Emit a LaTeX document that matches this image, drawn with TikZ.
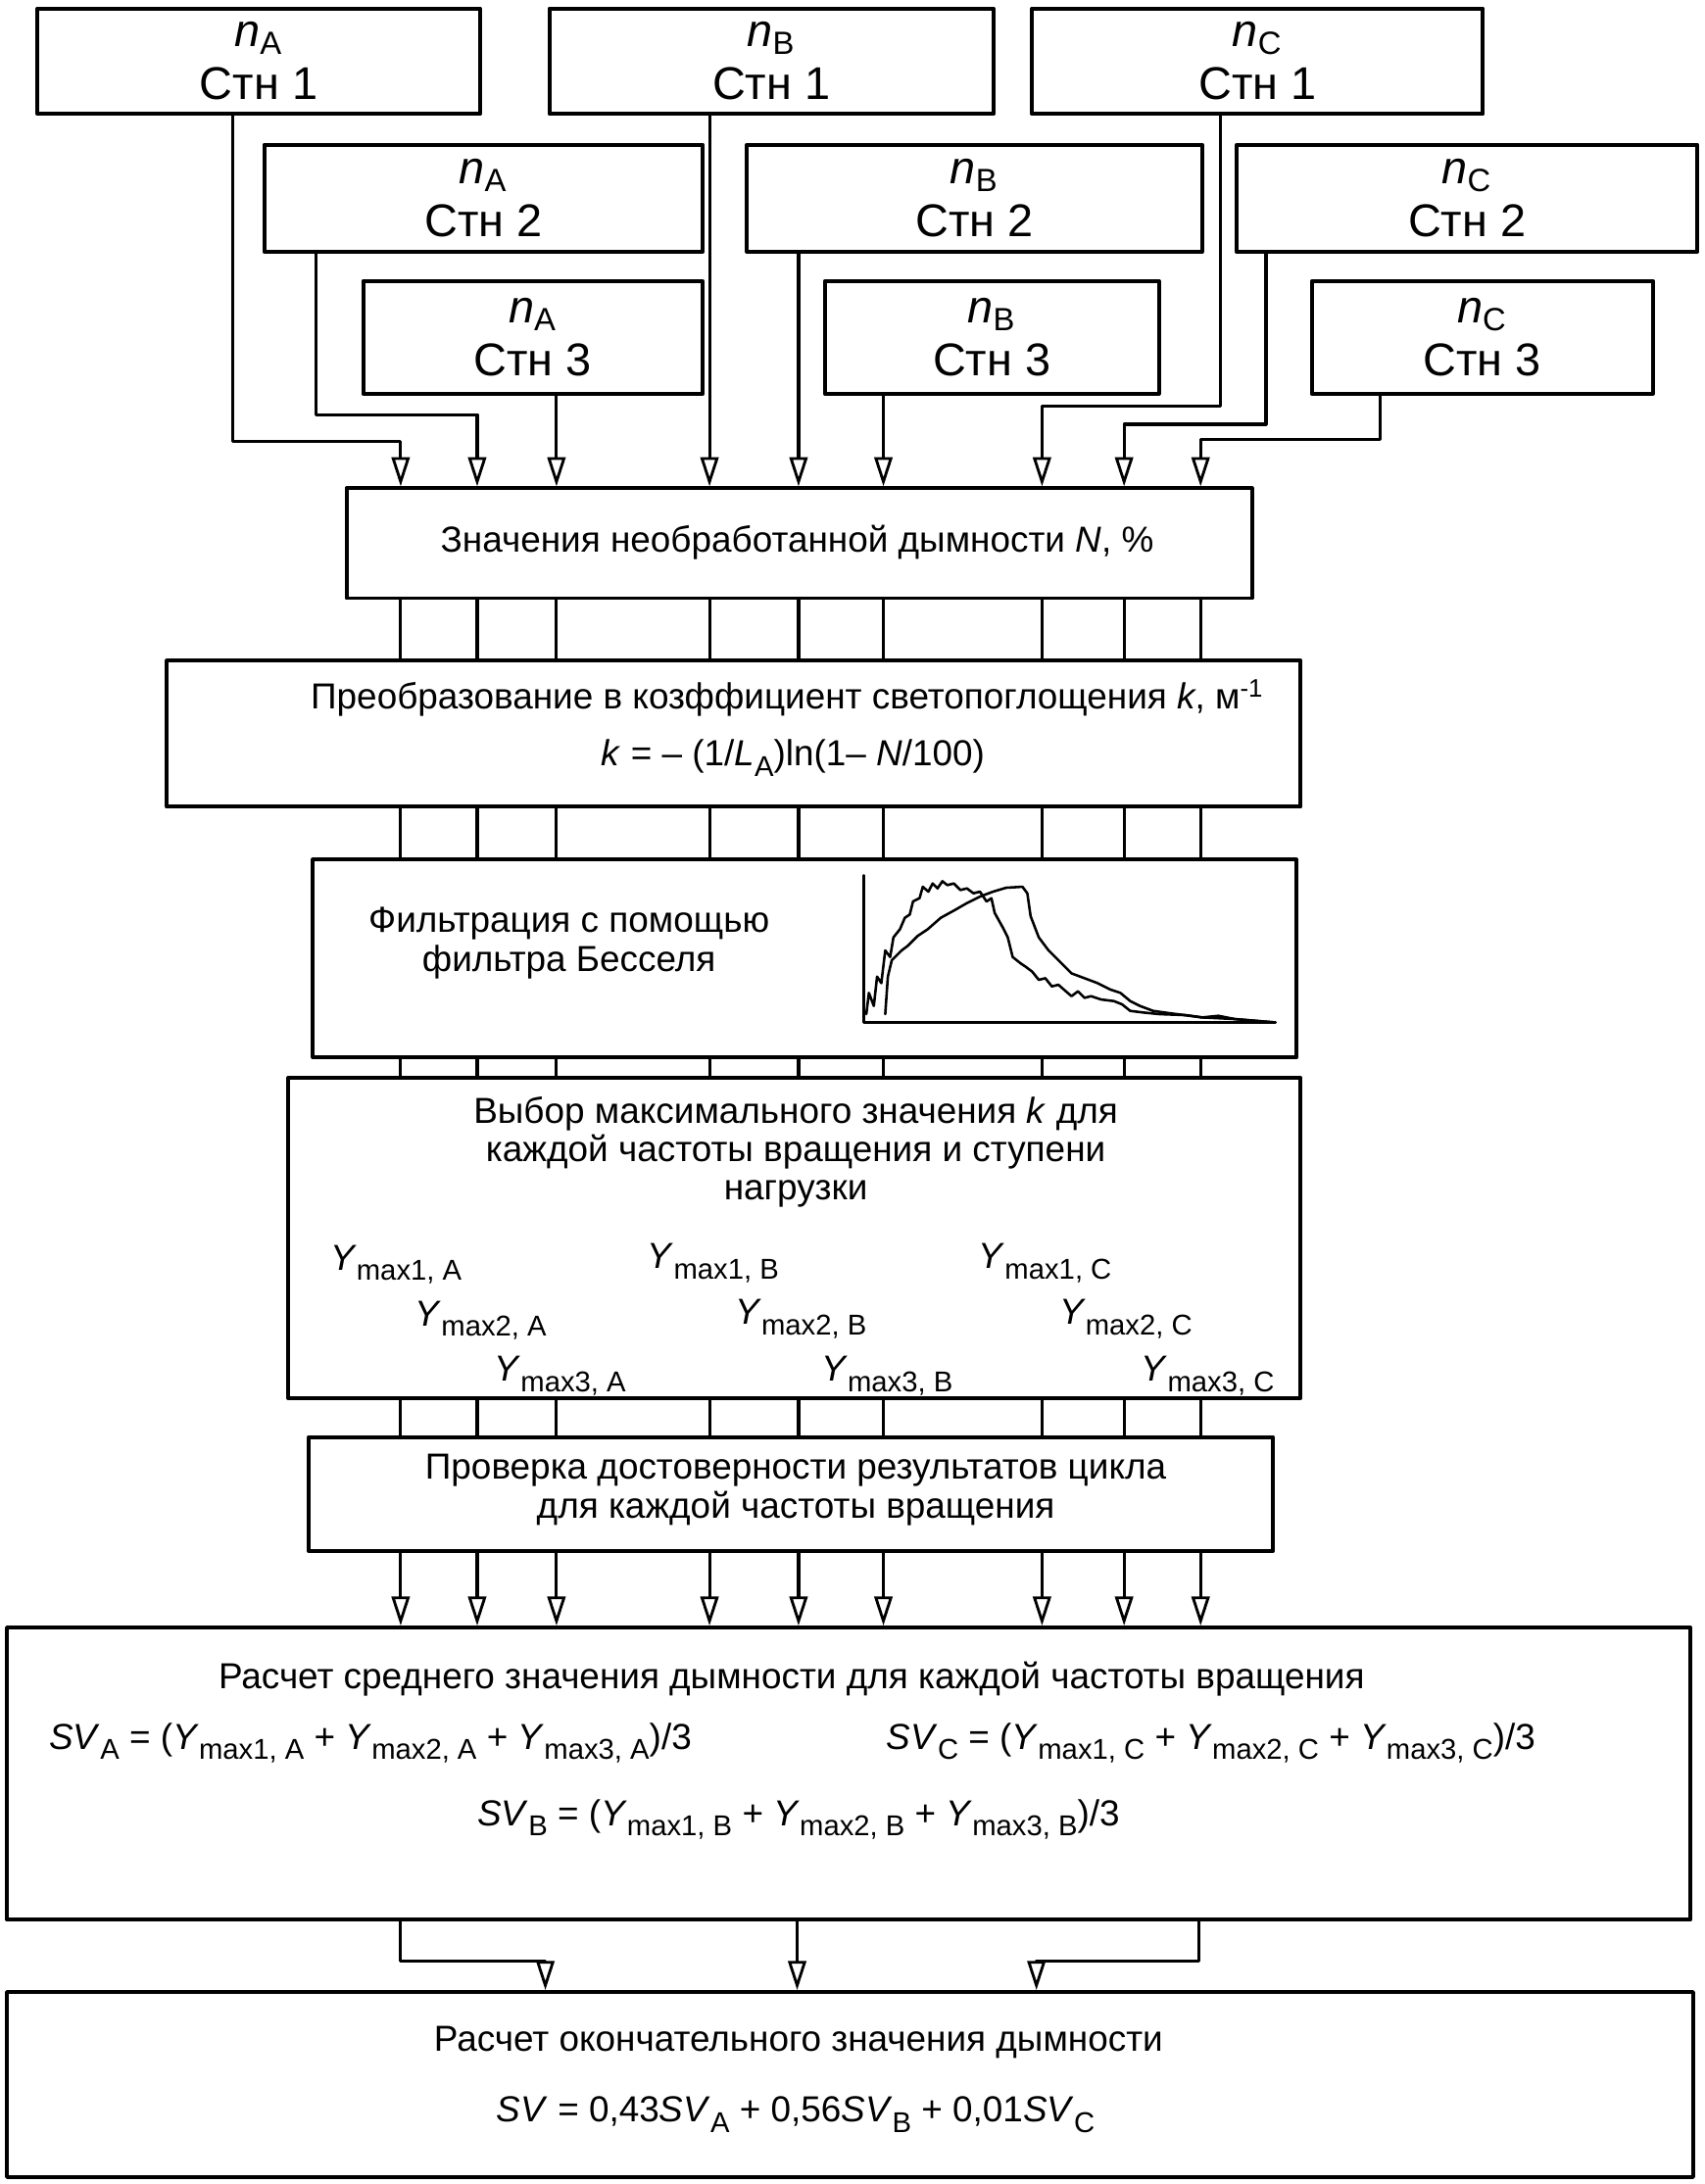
\documentclass[tikz,border=0pt]{standalone}
\usepackage{fontspec}
\setmainfont{Liberation Sans}
\usetikzlibrary{arrows.meta}
\newcommand{\sub}[1]{\raisebox{-0.55ex}{\fontsize{10.3}{11}\selectfont #1}}
\begin{document}
\begin{tikzpicture}[x=0.5pt,y=-0.5pt,line join=round,line cap=round,
		box/.style={draw,line width=1.4pt,inner sep=0pt},
		lbl/.style={font=\fontsize{16.5}{19}\selectfont,align=center},
		txt/.style={font=\fontsize{13}{13.8}\selectfont,align=center,inner sep=0pt},
		wire/.style={line width=1.1pt},
		arr/.style={wire,-{Triangle[open,length=10.5pt,width=6.5pt,line width=1pt]}}]
	\useasboundingbox (0,0) rectangle (1225,1570);
	% boxes of the nine measuring points
	\foreach \nm/\cx/\cy/\w/\h/\sb/\st in {a1/186/44/318/76/A/1,b1/554.5/44/319/76/B/1,c1/904/44/324/76/C/1,
		a2/347.5/142.5/315/77/A/2,b2/700.5/142.5/327/77/B/2,c2/1054.5/142.5/331/77/C/2,
		a3/383/242.5/244/81/A/3,b3/713/242.5/240/81/B/3,c3/1065.5/242.5/245/81/C/3}{
		\node[box,lbl,minimum width=\w*0.5pt,minimum height=\h*0.5pt] (\nm) at (\cx,\cy) {\textit{n}\textsubscript{\sb}\\Стн \st};
	}
	% processing boxes
	\node[box,minimum width=325.5pt,minimum height=39.5pt] (raw) at (574.5,390.5) {};
	\node[box,minimum width=407.5pt,minimum height=52.5pt] (kbox) at (527.5,527.5) {};
	\node[box,minimum width=353.5pt,minimum height=71pt] (filt) at (578.5,689) {};
	\node[box,minimum width=364pt,minimum height=115pt] (ymax) at (571,890) {};
	\node[box,minimum width=346.5pt,minimum height=41pt] (check) at (568.5,1074) {};
	\node[box,minimum width=605pt,minimum height=105pt] (mean) at (610,1275) {};
	\node[box,minimum width=606pt,minimum height=66.5pt] (final) at (611,1498.5) {};
	% texts
	\node[txt] (rawt) at (573,390) {Значения необработанной дымности \textit{N}, \%};
	\node[txt] (kt1) at (566,502) {Преобразование в козффициент светопоглощения \textit{k}, м\textsuperscript{-1}};
	\node[txt] (kt2) at (570,545) {\textit{k} = – (1/\textit{L}\sub{A})ln(1– \textit{N}/100)};
	\node[txt] (filtt) at (409,678) {Фильтрация с помощью\\фильтра Бесселя};
	\node[txt] (ymaxt) at (572,828) {Выбор максимального значения \textit{k} для\\каждой частоты вращения и ступени\\нагрузки};
	\foreach \c/\r/\x/\y in {A/1/237/913,A/2/298/953,A/3/355/993,B/1/465/912,B/2/528/952,B/3/590/993,C/1/703/912,C/2/761/952,C/3/820/993}{
		\node[txt,anchor=base west] (y\c\r) at (\x,\y) {\textit{Y}\sub{max\r, \c}};
	}
	\node[txt] (checkt) at (572,1071) {Проверка достоверности результатов цикла\\для каждой частоты вращения};
	\node[txt] (meant) at (569,1207) {Расчет среднего значения дымности для каждой частоты вращения};
	\node[txt,anchor=west] (sva) at (35,1253) {\textit{SV}\sub{A} = (\textit{Y}\sub{max1, A} + \textit{Y}\sub{max2, A} + \textit{Y}\sub{max3, A})/3};
	\node[txt,anchor=west] (svc) at (637,1253) {\textit{SV}\sub{C} = (\textit{Y}\sub{max1, C} + \textit{Y}\sub{max2, C} + \textit{Y}\sub{max3, C})/3};
	\node[txt] (svb) at (574,1308) {\textit{SV}\sub{B} = (\textit{Y}\sub{max1, B} + \textit{Y}\sub{max2, B} + \textit{Y}\sub{max3, B})/3};
	\node[txt] (finalt) at (574,1468) {Расчет окончательного значения дымности};
	\node[txt] (svt) at (572,1520) {\textit{SV} = 0,43\textit{SV}\sub{A} + 0,56\textit{SV}\sub{B} + 0,01\textit{SV}\sub{C}};
	% filtered curves
	\begin{scope}[shift={(605.8,612.8)},scale=0.2348,line width=0.9pt]
		\draw (65,70) -- (65,520) -- (1325,520);
		\draw plot coordinates {(72,495) (80,430) (95,470) (105,380) (118,400) (130,300) (145,320) (155,260) (175,235) (190,200) (205,190) (215,150) (235,140) (245,105) (262,120) (275,95) (290,110) (305,88) (320,100) (340,95) (360,115) (380,110) (400,125) (420,120) (440,150) (455,140) (465,185) (490,230) (505,260) (520,320) (545,340) (560,350) (580,365) (600,390) (620,385) (640,410) (660,405) (700,440) (720,425) (740,445) (760,440) (790,450) (830,455) (855,465) (880,485) (920,490) (970,495) (1050,498) (1100,505) (1150,500) (1200,510) (1260,515) (1320,520)};
		\draw plot coordinates {(130,495) (138,380) (150,330) (180,300) (200,285) (230,255) (260,235) (300,200) (340,178) (380,155) (420,135) (460,120) (500,108) (550,105) (565,125) (575,195) (600,260) (630,300) (660,330) (700,370) (740,385) (780,400) (820,420) (850,430) (880,455) (910,470) (950,485) (1000,492) (1100,505) (1200,510) (1320,520)};
	\end{scope}
	% connectors into the raw values box
	\foreach \nm/\s/\t/\yb in {a1/167/288/317,a2/227/343/298,a3/400/400/300,b1/510/510/300,b2/574/574/300,b3/635/635/300,c1/877/749/292,c2/910/808/305,c3/992/863/316}{
		\coordinate (s) at (\s,\yb);
		\coordinate (t) at (\t,\yb);
		\draw[arr] (\nm.south -| s) -- (s) -- (t) -- (t |- raw.north);
	}
	% nine channels through the processing boxes
	\foreach \t in {288,343,400,510,574,635,749,808,863}{
		\coordinate (x) at (\t,0);
		\draw[wire] (raw.south -| x) -- (kbox.north -| x);
		\draw[wire] (kbox.south -| x) -- (filt.north -| x);
		\draw[wire] (filt.south -| x) -- (ymax.north -| x);
		\draw[wire] (ymax.south -| x) -- (check.north -| x);
		\draw[arr] (check.south -| x) -- (mean.north -| x);
	}
	% into the final box
	\coordinate (ml) at (288,1410);
	\coordinate (fl) at (392,1410);
	\coordinate (mc) at (573,1410);
	\coordinate (mr) at (862,1410);
	\coordinate (fr) at (745,1410);
	\draw[arr] (mean.south -| ml) -- (ml) -- (fl) -- (final.north -| fl);
	\draw[arr] (mean.south -| mc) -- (final.north -| mc);
	\draw[arr] (mean.south -| mr) -- (mr) -- (fr) -- (final.north -| fr);
\end{tikzpicture}
\end{document}
